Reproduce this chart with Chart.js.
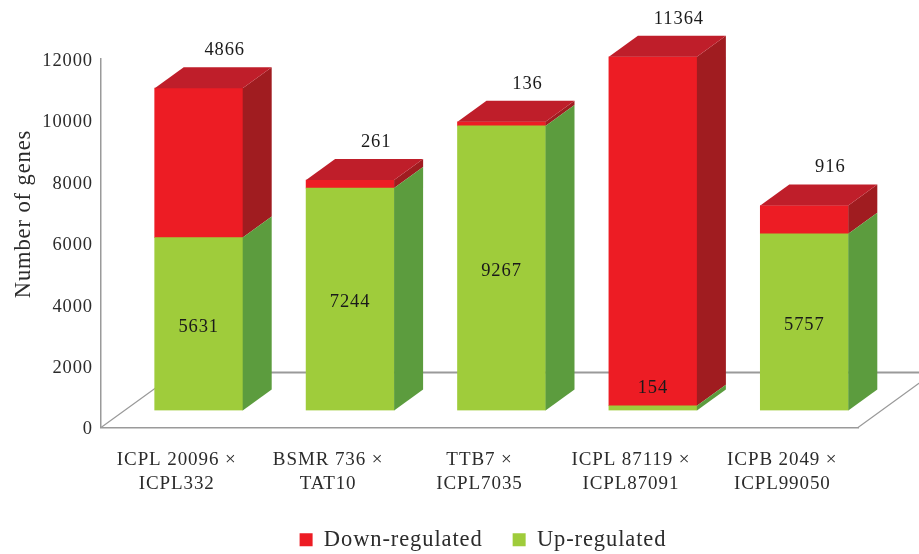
<!DOCTYPE html>
<html>
<head>
<meta charset="utf-8">
<title>Number of genes</title>
<script src="https://cdn.jsdelivr.net/npm/chart.js"></script>
<style>
  html,body{margin:0;padding:0;background:#fff}
  canvas{display:block}
</style>
</head>
<body>
<canvas id="grafik" width="919" height="554"></canvas>
<script>
const categories = [
  ["ICPL 20096 ×", "ICPL332"],
  ["BSMR 736 ×", "TAT10"],
  ["TTB7 ×", "ICPL7035"],
  ["ICPL 87119 ×", "ICPL87091"],
  ["ICPB 2049 ×", "ICPL99050"]
];
const upRegulated = [5631, 7244, 9267, 154, 5757];
const downRegulated = [4866, 261, 136, 11364, 916];
const yTitle = "Number of genes";

const FONT = "'Liberation Serif'";
const INK = "#2b2b2b";
const AXIS = "#9a9a9a";
const SPACING = "0.9px";

// bars stand on the floor, a little behind the axis line
const SHIFT_X = 22, SHIFT_Y = -17;
const DEPTH_X = 29, DEPTH_Y = -21;
const FLOOR_X = 76, FLOOR_Y = -55;

const faces = [
  {side: "#5c9c3e", cap: "#5c9c3e"},
  {side: "#a01c20", cap: "#bf1e2a"}
];

// ================= FLOOR =================
const floorPlugin = {
  id: "floor",
  beforeUpdate(chart) {
    chart.ctx.letterSpacing = SPACING;
  },
  afterLayout(chart) {
    // legend sits right of the canvas centre and low on the page
    chart.legend.left += 54;
    chart.legend.right += 54;
    chart.legend.top += 7;
    chart.legend.bottom += 7;
    // tick labels get clipped to the scale box, let the second line through
    chart.scales.x.bottom += 40;
    // y tick labels sit a bit under their value
    chart.scales.y.getLabelItems().forEach(item => {
      item.options.translation[1] += 2;
    });
  },
  beforeDraw(chart) {
    chart.ctx.letterSpacing = SPACING;
  },
  beforeDatasetsDraw(chart) {
    const {ctx, chartArea: a} = chart;
    ctx.save();
    ctx.strokeStyle = AXIS;
    ctx.lineWidth = 1.2;
    ctx.beginPath();
    ctx.moveTo(a.left, a.bottom);
    ctx.lineTo(a.left + FLOOR_X, a.bottom + FLOOR_Y);
    ctx.moveTo(a.right, a.bottom);
    ctx.lineTo(a.right + FLOOR_X, a.bottom + FLOOR_Y);
    ctx.stroke();
    ctx.lineWidth = 2;
    ctx.beginPath();
    ctx.moveTo(a.left + FLOOR_X, a.bottom + FLOOR_Y);
    ctx.lineTo(chart.width, a.bottom + FLOOR_Y);
    ctx.stroke();
    ctx.restore();

    // axis title, up beside the taller ticks rather than centred on the axis
    ctx.save();
    ctx.font = "22.5px " + FONT;
    ctx.fillStyle = INK;
    ctx.textAlign = "center";
    ctx.textBaseline = "middle";
    ctx.translate(24, 214);
    ctx.rotate(-Math.PI / 2);
    ctx.fillText(yTitle, 0, 0);
    ctx.restore();
  },
  beforeDatasetDraw(chart) {
    chart.ctx.save();
    chart.ctx.translate(SHIFT_X, SHIFT_Y);
  },
  afterDatasetDraw(chart, args) {
    const ctx = chart.ctx;
    const face = faces[args.index];
    args.meta.data.forEach(bar => {
      const left = bar.x - bar.width / 2;
      const right = bar.x + bar.width / 2;
      ctx.fillStyle = face.side;
      ctx.beginPath();
      ctx.moveTo(right, bar.y);
      ctx.lineTo(right + DEPTH_X, bar.y + DEPTH_Y);
      ctx.lineTo(right + DEPTH_X, bar.base + DEPTH_Y);
      ctx.lineTo(right, bar.base);
      ctx.closePath();
      ctx.fill();
      if (args.index === 1) {
        ctx.fillStyle = face.cap;
        ctx.beginPath();
        ctx.moveTo(left, bar.y);
        ctx.lineTo(left + DEPTH_X, bar.y + DEPTH_Y);
        ctx.lineTo(right + DEPTH_X, bar.y + DEPTH_Y);
        ctx.lineTo(right, bar.y);
        ctx.closePath();
        ctx.fill();
      }
    });
    ctx.restore();
  },
  afterDatasetsDraw(chart) {
    const ctx = chart.ctx;
    ctx.save();
    ctx.font = "18.5px " + FONT;
    ctx.fillStyle = "#1a1a1a";
    ctx.textAlign = "center";
    ctx.textBaseline = "middle";
    chart.getDatasetMeta(0).data.forEach((bar, i) => {
      const h = bar.base - bar.y;
      const y = h < 30 ? bar.y - 18 : bar.y + h / 2 + 3;
      ctx.fillText(upRegulated[i], bar.x + SHIFT_X, y + SHIFT_Y);
    });
    chart.getDatasetMeta(1).data.forEach((bar, i) => {
      ctx.fillText(downRegulated[i], bar.x + SHIFT_X + 26, bar.y + SHIFT_Y - 38);
    });
    ctx.restore();
  }
};

new Chart(document.getElementById("grafik"), {
  type: "bar",
  data: {
    labels: categories,
    datasets: [
      {label: "Up-regulated", data: upRegulated, backgroundColor: "#9fcc3b"},
      {label: "Down-regulated", data: downRegulated, backgroundColor: "#ed1c24"}
    ]
  },
  options: {
    responsive: false,
    animation: false,
    devicePixelRatio: 1,
    layout: {padding: {top: 59, right: 61, bottom: 0, left: 0}},
    datasets: {bar: {barThickness: 88}},
    plugins: {
      tooltip: {enabled: false},
      title: {display: false},
      legend: {
        position: "bottom",
        reverse: true,
        labels: {
          boxWidth: 13,
          boxHeight: 13,
          padding: 30,
          color: INK,
          font: {family: FONT, size: 22.5}
        }
      }
    },
    scales: {
      x: {
        stacked: true,
        grid: {display: false, drawTicks: false},
        border: {color: AXIS, width: 1.5},
        ticks: {
          color: INK,
          padding: 21,
          maxRotation: 0,
          autoSkip: false,
          font: {family: FONT, size: 19, lineHeight: 1.26}
        },
        afterFit(scale) { scale.height = 64; }
      },
      y: {
        stacked: true,
        min: 0,
        max: 12000,
        grid: {display: false, drawTicks: false},
        border: {color: AXIS, width: 1.5},
        ticks: {
          stepSize: 2000,
          color: INK,
          padding: 8,
          font: {family: FONT, size: 18.5},
          callback: v => String(v)
        },
        afterFit(scale) { scale.width = 101; }
      }
    }
  },
  plugins: [floorPlugin]
});
</script>
</body>
</html>
